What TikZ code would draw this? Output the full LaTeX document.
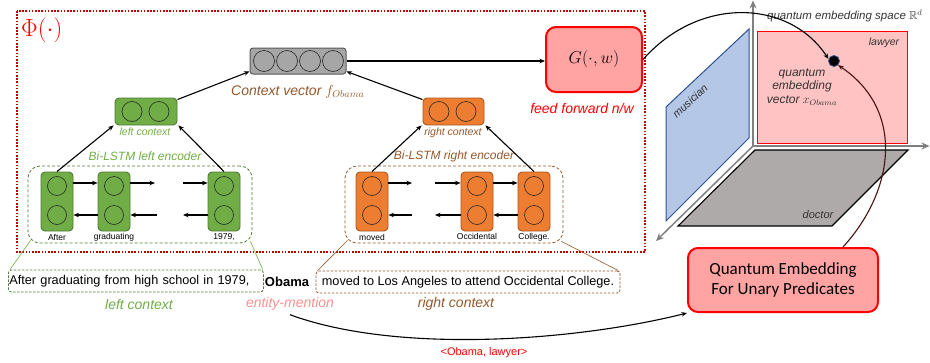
\documentclass[tikz,border=0pt]{standalone}
\usepackage{amssymb}
\usepackage{fontspec}
\setmainfont{Liberation Sans}
\newfontfamily\calibfont{Carlito}
\usetikzlibrary{arrows.meta}
\definecolor{cgreen}{HTML}{70AD47}
\definecolor{cgreenD}{HTML}{4E7A30}
\definecolor{corange}{HTML}{ED7D31}
\definecolor{corangeD}{HTML}{A9551C}
\definecolor{cbrown}{HTML}{94582A}
\definecolor{cgray}{HTML}{A6A6A6}
\definecolor{cgrayD}{HTML}{595959}
\definecolor{cpink}{HTML}{FFA3A3}
\definecolor{cdred}{HTML}{C00000}
\definecolor{clawyer}{HTML}{FFC3C3}
\definecolor{cblue}{HTML}{B4C7E7}
\definecolor{cblueD}{HTML}{2F528F}
\definecolor{cdoctor}{HTML}{AEAAAA}
\definecolor{caxis}{HTML}{808080}
\definecolor{centity}{HTML}{FF8F8F}
\definecolor{cmaroon}{HTML}{4A1212}
\newcommand\myfs[1]{\fontsize{#1}{#1}\selectfont}
\begin{document}
\begin{tikzpicture}[x=1pt,y=-1pt,
  cellG/.style={draw=cgreenD, fill=cgreen, rounded corners=4pt, minimum width=32pt, minimum height=59pt, inner sep=0pt, line width=0.9pt},
  cellO/.style={cellG, draw=corangeD, fill=corange},
  unit/.style={circle, draw=black!85, minimum size=19pt, inner sep=0pt, line width=0.6pt},
  vunit/.style={unit, minimum size=21pt},
  arr/.style={-{Stealth[length=5.5pt,width=4.5pt]}, line width=1.1pt},
  enc/.style={dash pattern=on 3pt off 2pt, rounded corners=12pt, line width=0.8pt, minimum height=77pt, inner sep=0pt},
  sent/.style={dash pattern=on 2.5pt off 1.5pt, rounded corners=3pt, line width=0.8pt, minimum height=22pt, inner sep=1pt, font=\myfs{12.7}},
  lbl/.style={font=\myfs{8.5}, inner sep=0pt},
  it/.style={font=\itshape, inner sep=0pt},
  axis/.style={draw=caxis, line width=1.5pt, -{Stealth[length=8pt,width=7pt]}},
  redbox/.style={draw=red, fill=cpink, line width=2pt, rounded corners=10pt}
]
\path[use as bounding box] (0,0) rectangle (930,362);

% ---------- Phi frame ----------
\draw[cdred, line width=1.6pt, dash pattern=on 1.6pt off 1.6pt] (17,11) rectangle (645,252);
\node[anchor=north west, text=red, inner sep=0pt] (phi) at (21,18) {\myfs{25}$\Phi(\cdot)$};

% ---------- context vector ----------
\node[draw=cgrayD, fill=cgray, rounded corners=3pt, minimum width=96pt, minimum height=26pt, line width=1pt] (ctx) at (298,61) {};
\node[vunit] (ctxa) at (264,61) {};
\node[vunit] (ctxb) at (287,61) {};
\node[vunit] (ctxc) at (310,61) {};
\node[vunit] (ctxd) at (333,61) {};
\node[it, anchor=west, text=cbrown, font=\itshape\myfs{14}] (ctxlbl) at (231,92) {Context vector $f_{\textstyle\scriptstyle Obama}$};

% ---------- G box ----------
\node[redbox, minimum width=96pt, minimum height=65pt] (G) at (594,59.5) {\myfs{19}$G(\cdot,w)$};
\node[it, text=red, font=\itshape\myfs{14}] (fflbl) at (582,108) {feed forward n/w};

% ---------- left / right context nodes ----------
\node[cellG, minimum width=62pt, minimum height=27pt] (ctxL) at (146,111.5) {};
\node[unit, minimum size=20pt] (ctxLa) at (132,111.5) {};
\node[unit, minimum size=20pt] (ctxLb) at (159,111.5) {};
\node[it, text=cgreen, font=\itshape\myfs{10.5}] (ctxLlbl) at (145,132) {left context};
\node[cellO, minimum width=61pt, minimum height=27pt] (ctxR) at (453.5,111.5) {};
\node[unit, minimum size=20pt] (ctxRa) at (439,111.5) {};
\node[unit, minimum size=20pt] (ctxRb) at (466,111.5) {};
\node[it, text=cbrown, font=\itshape\myfs{10.5}] (ctxRlbl) at (453,133) {right context};

\node[it, text=cgreen, font=\itshape\myfs{12}] (encLlbl) at (145,156) {Bi-LSTM left encoder};
\node[it, text=cbrown, font=\itshape\myfs{12}] (encRlbl) at (454,156) {Bi-LSTM right encoder};

% ---------- encoders ----------
\node[enc, draw=cgreenD, minimum width=224pt] (encL) at (140,204.5) {};
\node[enc, draw=cbrown, minimum width=218pt] (encR) at (454,204.5) {};

\foreach \n/\x in {cL1/57, cL2/114, cL3/224} {
  \node[cellG] (\n) at (\x,201.5) {};
  \node[unit] (\n a) at (\x,186) {};
  \node[unit] (\n b) at (\x,215) {};
}
\foreach \n/\x in {cR1/372, cR2/477, cR3/534} {
  \node[cellO] (\n) at (\x,201.5) {};
  \node[unit] (\n a) at (\x,186) {};
  \node[unit] (\n b) at (\x,215) {};
}
\node[lbl] (w1) at (57,237.5) {After};
\node[lbl] (w2) at (114,237.5) {graduating};
\node[lbl] (w3) at (224,237.5) {1979,};
\node[lbl] (w4) at (372,237.5) {moved};
\node[lbl] (w5) at (477,236.5) {Occidental};
\node[lbl] (w6) at (534,237.5) {College.};

% free ends of the recurrent arrows
\coordinate (fL1) at (155,183);
\coordinate (fL2) at (157,215);
\coordinate (fL3) at (183,183);
\coordinate (fL4) at (183,215);
\coordinate (fR1) at (412,183);
\coordinate (fR2) at (412,215);
\coordinate (fR3) at (435,183);
\coordinate (fR4) at (435,215);

\draw[arr] ([yshift=18.5pt]cL1.east) -- ([yshift=18.5pt]cL2.west);
\draw[arr] ([yshift=-13.5pt]cL2.west) -- ([yshift=-13.5pt]cL1.east);
\draw[arr] ([yshift=18.5pt]cL2.east) -- (fL1);
\draw[arr] (fL2) -- ([yshift=-13.5pt]cL2.east);
\draw[arr] (fL3) -- ([yshift=18.5pt]cL3.west);
\draw[arr] ([yshift=-13.5pt]cL3.west) -- (fL4);

\draw[arr] ([yshift=18.5pt]cR1.east) -- (fR1);
\draw[arr] (fR2) -- ([yshift=-13.5pt]cR1.east);
\draw[arr] (fR3) -- ([yshift=18.5pt]cR2.west);
\draw[arr] ([yshift=-13.5pt]cR2.west) -- (fR4);
\draw[arr] ([yshift=18.5pt]cR2.east) -- ([yshift=18.5pt]cR3.west);
\draw[arr] ([yshift=-13.5pt]cR3.west) -- ([yshift=-13.5pt]cR2.east);

\draw[arr] (cL1.north) -- ([xshift=-1pt]ctxL.south west);
\draw[arr] (cL3.north) -- ([xshift=1pt]ctxL.south east);
\draw[arr] ([yshift=-2pt]ctxL.north east) -- ([yshift=3pt]ctx.south west);
\draw[arr] (cR1.north) -- ([xshift=-1pt]ctxR.south west);
\draw[arr] (cR3.north) -- ([xshift=1pt]ctxR.south east);
\draw[arr] ([yshift=-2pt]ctxR.north west) -- ([yshift=3pt]ctx.south east);
\draw[arr] (ctx.east) -- (ctx.east -| G.west);

% ---------- sentence ----------
\node[sent, draw=cgreenD, anchor=west, text width=253pt, align=left] (sentL) at (8,281) {After graduating from high school in 1979,};
\node[inner sep=0pt, font=\bfseries\myfs{13}] (obama) at (287,282) {Obama};
\node[sent, draw=cbrown, minimum width=304pt] (sentR) at (468,282) {moved to Los Angeles to attend Occidental College.};
\node[it, text=cgreen, font=\itshape\myfs{14}] (leftlbl) at (139,304) {left context};
\node[it, text=centity, font=\itshape\myfs{14}] (entity) at (290,304) {entity-mention};
\node[it, text=cbrown, font=\itshape\myfs{14}] (rightlbl) at (456,304) {right context};
\node[inner sep=0pt, text=red, font=\myfs{11}] (pair) at (484,353) {<Obama, lawyer>};

\draw[cgreen, line width=0.6pt] ([xshift=3pt,yshift=3pt]encL.south west) -- ([xshift=2pt]sentL.north west);
\draw[cgreen, line width=0.6pt] ([xshift=-2pt,yshift=2pt]encL.south east) -- ([xshift=-1pt]sentL.north east);
\draw[cbrown, line width=0.6pt] ([xshift=3pt,yshift=3pt]encR.south west) -- ([xshift=2pt]sentR.north west);
\draw[cbrown, line width=0.6pt] ([xshift=-2pt,yshift=2pt]encR.south east) -- ([xshift=-2pt]sentR.north east);

% ---------- embedding space ----------
\coordinate (O) at (753,146);
\coordinate (ax1) at (753,0.5);
\coordinate (ax2) at (929.5,146);
\coordinate (ax3) at (656,241);
\draw[axis] (O) -- (ax1);
\draw[axis] (O) -- (ax2);
\draw[axis] (O) -- (ax3);

\draw[fill=cblue, draw=cblueD, line width=1pt] (666,107) -- (749,29) -- (749,138) -- (666,221) -- cycle;
\node[it, rotate=43, text=black!80, font=\itshape\myfs{11}] (mus) at (690,101) {musician};
\node[draw=red, fill=clawyer, minimum width=150pt, minimum height=112pt, line width=1pt, inner sep=0pt] (law) at (832,87) {};
\node[it, text=black!80, font=\itshape\myfs{10.5}] (lawlbl) at (884,43) {lawyer};
\draw[fill=cdoctor, draw=black, line width=1.1pt] (755,150) -- (908,150) -- (832,226) -- (678,226) -- cycle;
\node[it, text=black!80, font=\itshape\myfs{11}] (doclbl) at (818,215) {doctor};

\node[it, anchor=west, text=black!80, font=\itshape\myfs{11.5}] (spacelbl) at (767,16) {quantum embedding space $\mathbb{R}^d$};
\node[circle, fill=black, draw=cblueD, line width=0.8pt, minimum size=11pt, inner sep=0pt] (dot) at (834,61) {};
\node[it, align=center, text=black!80, font=\itshape\myfs{12}] (qev) at (802,87) {quantum\\[1pt]embedding\\[2pt]vector $x_{\textstyle\scriptstyle Obama}$};

\node[redbox, minimum width=190pt, minimum height=64pt, align=center, font=\calibfont\myfs{17}] (QE) at (783,280) {Quantum Embedding\\[3pt]For Unary Predicates};

\draw[arr] (G.east) .. controls (700,-5) and (790,0) .. (dot.160);
\draw[arr, cmaroon] ([xshift=60pt]QE.north) .. controls (895,190) and (905,110) .. (dot.south east);
\draw[arr] ([yshift=-4pt]entity.south) .. controls (400,355) and (580,340) .. (QE.south west);
\end{tikzpicture}
\end{document}
